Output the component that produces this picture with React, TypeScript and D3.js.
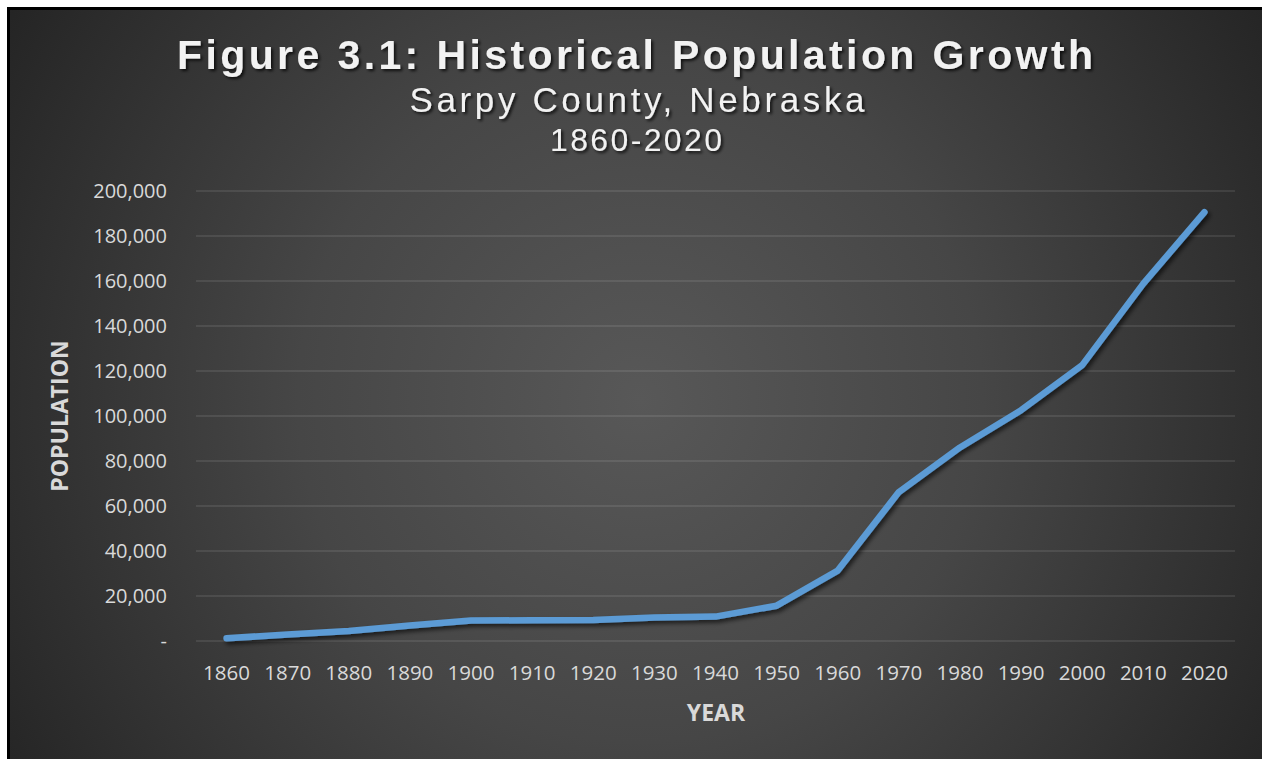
import React from "react";
import * as d3 from "d3";

const years: string[] = ["1860","1870","1880","1890","1900","1910","1920","1930","1940","1950","1960","1970","1980","1990","2000","2010","2020"];
const population: number[] = [1201,2913,4481,6875,9080,9274,9370,10402,10835,15693,31281,66200,86015,102583,122595,158840,190604];
const yTicks: number[] = [0,20000,40000,60000,80000,100000,120000,140000,160000,180000,200000];
const titleText = "Figure 3.1: Historical Population Growth";
const subtitleText = "Sarpy County, Nebraska";
const rangeText = "1860-2020";
const yAxisTitle = "POPULATION";
const xAxisTitle = "YEAR";

const W = 1262;
const H = 759;

export default function App() {
  const x = d3.scaleBand<string>().domain(years).range([196, 1235]).paddingInner(0).paddingOuter(0);
  const y = d3.scaleLinear().domain([0, 200000]).range([641, 191]);
  const cx = (d: string) => (x(d) as number) + x.bandwidth() / 2;
  const line = d3.line<number>().x((_, i) => cx(years[i])).y((d) => y(d));
  const fmt = (v: number) => (v === 0 ? "-" : d3.format(",")(v));

  return (
    <svg width={W} height={H} style={{ position: "absolute", left: 0, top: 0, display: "block" }}>
      <defs>
        <radialGradient id="bg" gradientUnits="userSpaceOnUse" cx={640} cy={400} r={760}>
          <stop offset="0" stopColor="#585858" />
          <stop offset="0.45" stopColor="#464646" />
          <stop offset="1" stopColor="#232323" />
        </radialGradient>
        <filter id="tshadow" x="-10%" y="-30%" width="120%" height="160%">
          <feDropShadow dx="2" dy="2" stdDeviation="1.5" floodColor="#000" floodOpacity="0.75" />
        </filter>
        <filter id="lshadow" x="-10%" y="-10%" width="120%" height="120%">
          <feDropShadow dx="2.5" dy="3" stdDeviation="2" floodColor="#000" floodOpacity="0.6" />
        </filter>
      </defs>
      <rect x={0} y={0} width={W} height={H} fill="#ffffff" />
      <rect x={8.5} y={8.5} width={W + 20} height={H + 20} fill="url(#bg)" stroke="#000" strokeWidth={3} />

      {yTicks.map((t) => (
        <line key={"g" + t} x1={196} x2={1235} y1={y(t)} y2={y(t)} stroke="#ffffff" strokeOpacity={0.12} strokeWidth={1.5} />
      ))}

      {yTicks.map((t) => (
        <text key={"yl" + t} x={167} y={y(t)} dy="0.35em" textAnchor="end" fill="#d9d9d9"
          style={{ fontFamily: "'Open Sans', sans-serif", fontSize: 20 }}>
          {fmt(t)}
        </text>
      ))}

      {years.map((yr) => (
        <text key={"xl" + yr} x={cx(yr)} y={680} textAnchor="middle" fill="#d9d9d9"
          style={{ fontFamily: "'Open Sans', sans-serif", fontSize: 20.5 }}>
          {yr}
        </text>
      ))}

      <text x={716} y={721} textAnchor="middle" fill="#d9d9d9"
        style={{ fontFamily: "'Open Sans', sans-serif", fontSize: 23, fontWeight: 700 }}>
        {xAxisTitle}
      </text>
      <text transform="translate(68,416) rotate(-90)" textAnchor="middle" fill="#d9d9d9"
        style={{ fontFamily: "'Open Sans', sans-serif", fontSize: 23, fontWeight: 700 }}>
        {yAxisTitle}
      </text>

      <path d={line(population) || ""} fill="none" stroke="#5B9BD5" strokeWidth={6.5}
        strokeLinejoin="round" strokeLinecap="round" filter="url(#lshadow)" />

      <g filter="url(#tshadow)" fill="#f2f2f2">
        <text x={635} y={69} textAnchor="middle" textLength={916} lengthAdjust="spacing"
          style={{ fontFamily: "'Liberation Sans', Arial, sans-serif", fontSize: 41, fontWeight: 700 }}>
          {titleText}
        </text>
        <text x={637} y={112} textAnchor="middle" textLength={455} lengthAdjust="spacing"
          style={{ fontFamily: "'Liberation Sans', Arial, sans-serif", fontSize: 35 }}>
          {subtitleText}
        </text>
        <text x={636} y={151} textAnchor="middle" textLength={172} lengthAdjust="spacing"
          style={{ fontFamily: "'Liberation Sans', Arial, sans-serif", fontSize: 32 }}>
          {rangeText}
        </text>
      </g>
    </svg>
  );
}
